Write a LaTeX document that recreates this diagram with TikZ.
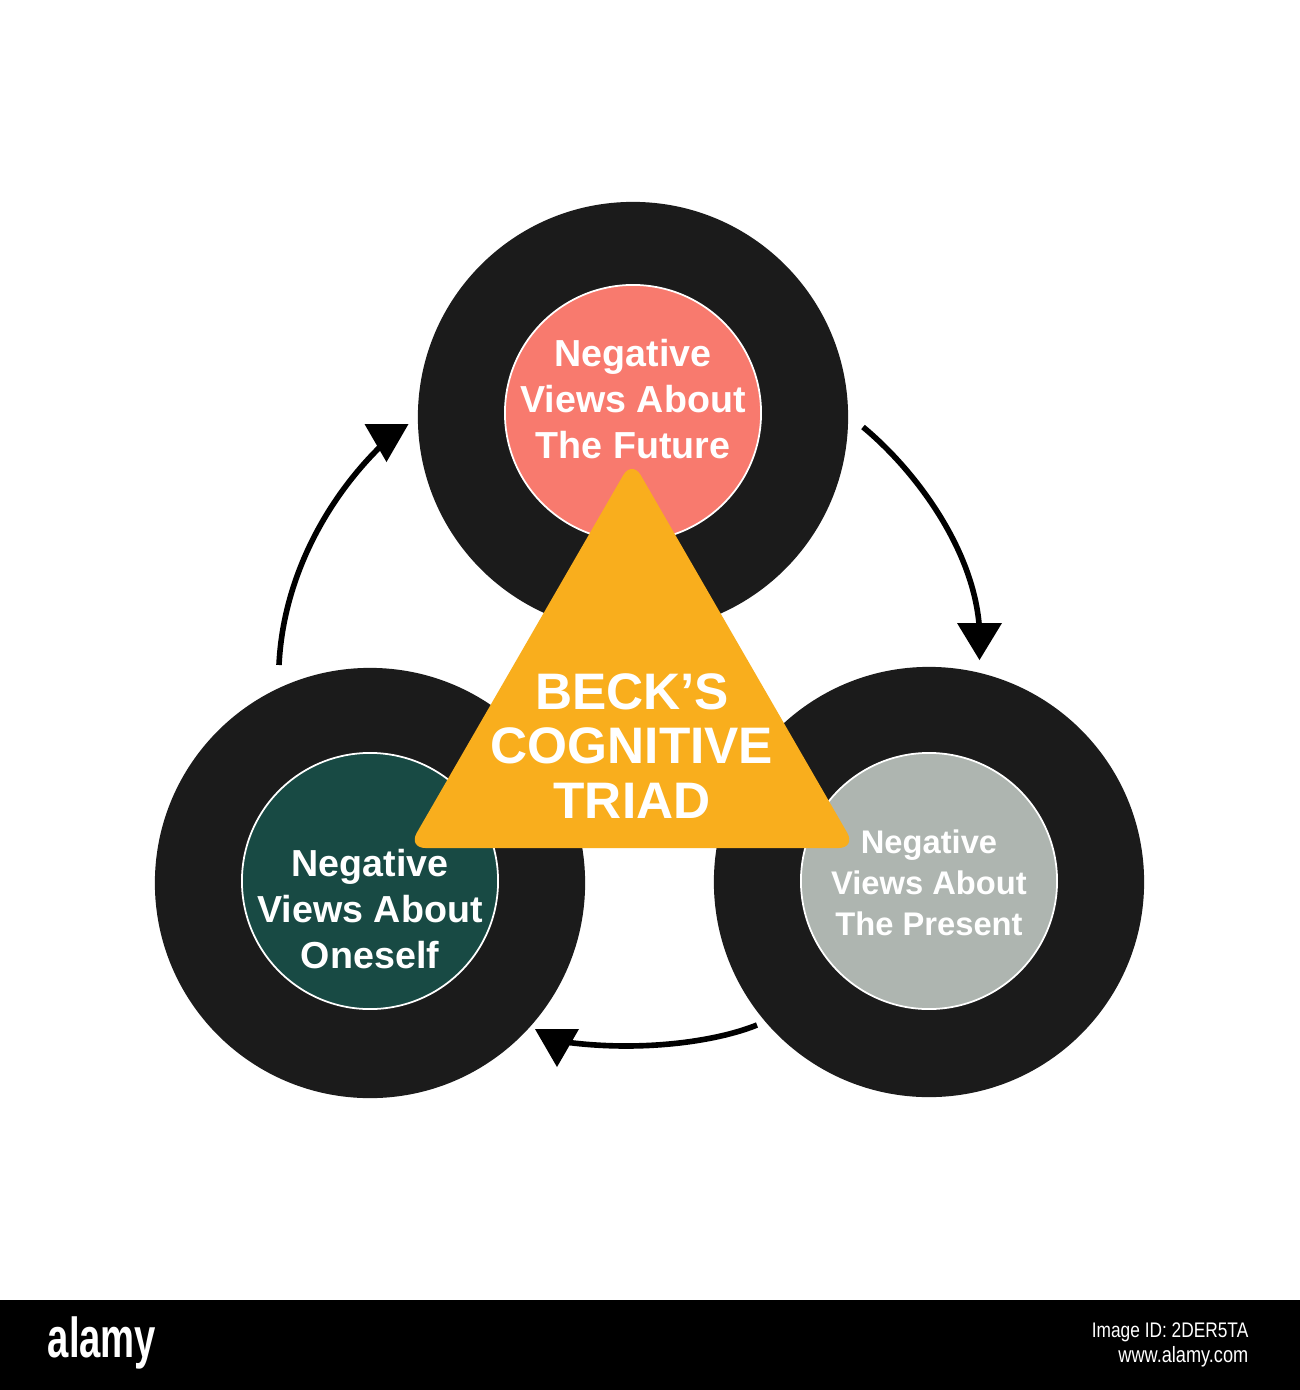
\documentclass[tikz,border=0pt]{standalone}
\usepackage{fontspec}
\setmainfont{Liberation Sans}
\definecolor{ringc}{RGB}{27,27,27}
\definecolor{salmon}{RGB}{248,122,110}
\definecolor{teal}{RGB}{24,74,68}
\definecolor{greyc}{RGB}{174,181,176}
\definecolor{tri}{RGB}{249,174,29}
\begin{document}
\begin{tikzpicture}[x=0.01cm,y=-0.01cm,
  ring/.style={circle, fill=ringc, minimum size=4.3cm, inner sep=0pt},
  core/.style={circle, draw=white, line width=0.5pt, minimum size=2.56cm, inner sep=0pt},
  txt/.style={text=white, align=center, inner sep=0pt, font=\bfseries\fontsize{10.7}{13.1}\selectfont},
  txts/.style={text=white, align=center, inner sep=0pt, font=\bfseries\fontsize{9.3}{11.6}\selectfont},
  ttl/.style={text=white, align=center, inner sep=0pt, font=\bfseries\fontsize{14.6}{15.4}\selectfont},
  arr/.style={line width=1.6pt, draw=black},
  head/.style={fill=black}]
\useasboundingbox (0,0) rectangle (1300,1390);
\fill[white] (0,0) rectangle (1300,1390);
% circles
\node[ring] (topR) at (633,417) {};
\node[core, fill=salmon] (topC) at (633,413) {};
\node[ring] (leftR) at (370,883) {};
\node[core, fill=teal] (leftC) at (370,881) {};
\node[ring] (rightR) at (929,882) {};
\node[core, fill=greyc] (rightC) at (929,881) {};
% triangle
\fill[tri, rounded corners=5pt] (632,460) -- (856,848) -- (408,848) -- cycle;
% texts
\node[txt] (topT) at (633,399) {Negative\\Views About\\The Future};
\node[txt] (leftT) at (370,909) {Negative\\Views About\\Oneself};
\node[txts] (rightT) at (929,883) {Negative\\Views About\\The Present};
\node[ttl] (title) at (632,746) {BECK’S\\COGNITIVE\\TRIAD};
% arrows
\coordinate (lS) at (279,665);
\coordinate (lE) at (383,444);
\coordinate (lH) at (386.5,424);
\coordinate (rS) at (863,427);
\coordinate (rE) at (979.5,630);
\coordinate (rH) at (979.5,623);
\coordinate (bS) at (757,1025);
\coordinate (bE) at (565,1042);
\coordinate (bH) at (557,1029);
\draw[arr] (lS) .. controls (283,580) and (325,500) .. (lE);
\draw[arr] (rS) .. controls (915,470) and (975,550) .. (rE);
\draw[arr] (bS) .. controls (715,1042) and (640,1052) .. (bE);
\fill[head] (lH) ++(-22,0) -- ++(44,0) -- ++(-22,38) -- cycle;
\fill[head] (rH) ++(-22.5,0) -- ++(45,0) -- ++(-22.5,37) -- cycle;
\fill[head] (bH) ++(-22,0) -- ++(44,0) -- ++(-22,38) -- cycle;
% bottom bar
\fill[black] (0,1300) rectangle (1300,1390);
\node[text=white, inner sep=0pt, font=\bfseries\fontsize{16}{16}\selectfont] (logo) at (102,1343) {\scalebox{0.68}[1]{alamy}};
\node[text=white, inner sep=0pt, anchor=east, font=\fontsize{6}{6}\selectfont] (imgid) at (1249,1332) {\scalebox{0.82}[1]{Image ID: 2DER5TA}};
\node[text=white, inner sep=0pt, anchor=east, font=\fontsize{6.3}{6.3}\selectfont] (www) at (1249,1357) {\scalebox{0.82}[1]{www.alamy.com}};
\end{tikzpicture}
\end{document}
